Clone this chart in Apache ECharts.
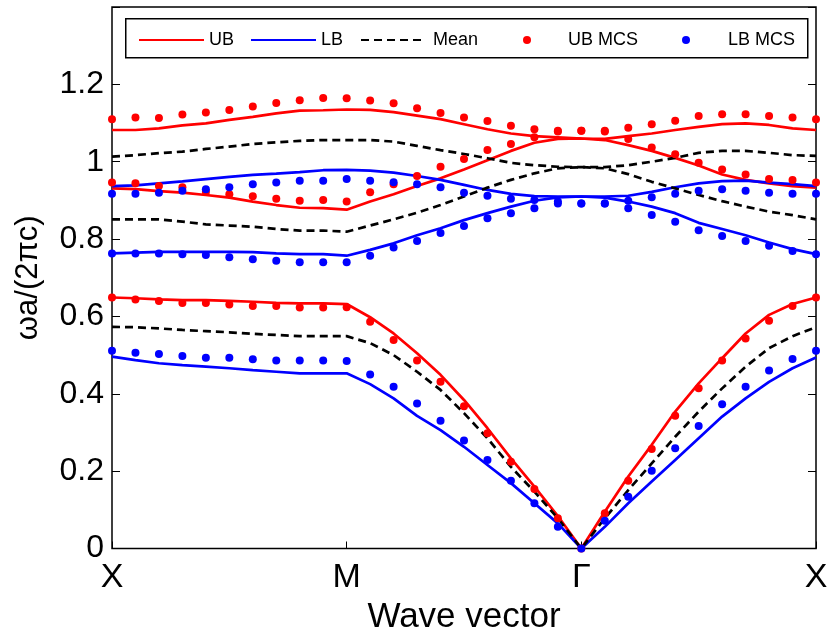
<!DOCTYPE html>
<html>
<head>
<meta charset="utf-8">
<script src="https://cdn.jsdelivr.net/npm/echarts@6/dist/echarts.min.js"></script>
<style>
html,body{margin:0;padding:0;background:#fff;}
#chart{width:827px;height:633px;}
</style>
</head>
<body>
<div id="chart"></div>
<script>
// high-symmetry points along the path, 31 k-points (index 0..30)
var kLabels = ['X', 'M', 'Γ', 'X'];

// band 1
var ub1 = [0.649,0.647,0.644,0.642,0.642,0.640,0.638,0.635,0.634,0.634,0.632,
  0.598,0.556,0.505,0.449,0.384,0.311,0.233,0.160,0.084,0.0,
  0.095,0.186,0.268,0.354,0.427,0.492,0.556,0.604,0.632,0.649];
var lb1 = [0.496,0.487,0.479,0.474,0.470,0.466,0.461,0.457,0.453,0.453,0.453,
  0.425,0.388,0.343,0.306,0.263,0.216,0.169,0.117,0.065,0.0,
  0.056,0.117,0.173,0.229,0.285,0.341,0.388,0.431,0.466,0.494];
var mean1 = [0.573,0.572,0.569,0.565,0.562,0.559,0.555,0.552,0.549,0.549,0.549,
  0.531,0.500,0.457,0.410,0.350,0.285,0.211,0.147,0.078,0.0,
  0.078,0.151,0.220,0.289,0.354,0.414,0.470,0.518,0.549,0.572];
var ubMcs1 = [0.649,0.644,0.640,0.635,0.635,0.631,0.627,0.627,0.623,0.623,0.624,
  0.586,0.539,0.486,0.431,0.368,0.298,0.224,0.154,0.078,0.0,
  0.091,0.175,0.257,0.343,0.414,0.486,0.543,0.589,0.627,0.649];
var lbMcs1 = [0.511,0.506,0.503,0.498,0.493,0.493,0.489,0.486,0.486,0.486,0.485,
  0.450,0.418,0.375,0.330,0.279,0.229,0.175,0.117,0.056,0.0,
  0.072,0.134,0.201,0.259,0.317,0.373,0.418,0.460,0.490,0.511];

// band 2
var ub2 = [0.931,0.929,0.924,0.920,0.914,0.907,0.897,0.888,0.881,0.880,0.876,
  0.897,0.916,0.937,0.957,0.980,1.004,1.028,1.049,1.059,1.060,
  1.056,1.043,1.028,1.010,0.990,0.967,0.953,0.944,0.937,0.933];
var lb2 = [0.763,0.765,0.767,0.767,0.767,0.767,0.766,0.763,0.761,0.761,0.757,
  0.772,0.789,0.810,0.828,0.849,0.867,0.884,0.899,0.908,0.910,
  0.907,0.897,0.884,0.867,0.842,0.826,0.810,0.791,0.774,0.761];
var mean2 = [0.851,0.851,0.851,0.845,0.838,0.835,0.832,0.826,0.822,0.822,0.819,
  0.835,0.851,0.868,0.888,0.910,0.933,0.953,0.970,0.983,0.986,
  0.983,0.968,0.948,0.931,0.914,0.898,0.884,0.871,0.862,0.851];
var ubMcs2 = [0.946,0.944,0.937,0.934,0.922,0.916,0.911,0.904,0.899,0.901,0.897,
  0.921,0.942,0.963,0.987,1.007,1.030,1.046,1.063,1.078,1.080,
  1.078,1.059,1.037,1.019,0.997,0.980,0.967,0.955,0.953,0.946];
var lbMcs2 = [0.763,0.763,0.763,0.761,0.759,0.753,0.748,0.744,0.740,0.740,0.740,
  0.757,0.778,0.795,0.816,0.834,0.854,0.867,0.880,0.892,0.892,
  0.892,0.880,0.862,0.845,0.823,0.808,0.795,0.783,0.769,0.761];

// band 3
var ub3 = [1.082,1.082,1.086,1.094,1.099,1.108,1.116,1.125,1.132,1.133,1.135,
  1.134,1.128,1.119,1.110,1.097,1.084,1.073,1.066,1.063,1.060,
  1.059,1.066,1.073,1.082,1.090,1.097,1.099,1.095,1.086,1.082];
var lb3 = [0.937,0.939,0.944,0.949,0.955,0.961,0.966,0.969,0.973,0.978,0.979,
  0.977,0.972,0.963,0.953,0.940,0.927,0.917,0.911,0.910,0.910,
  0.910,0.912,0.922,0.934,0.944,0.950,0.951,0.946,0.942,0.937];
var mean3 = [1.013,1.017,1.022,1.026,1.033,1.039,1.046,1.050,1.054,1.056,1.056,
  1.056,1.052,1.041,1.030,1.020,1.009,0.997,0.991,0.987,0.986,
  0.986,0.991,1.000,1.010,1.023,1.028,1.028,1.023,1.017,1.015];
var ubMcs3 = [1.110,1.114,1.113,1.122,1.127,1.134,1.143,1.152,1.159,1.165,1.164,
  1.158,1.151,1.138,1.126,1.114,1.105,1.093,1.084,1.080,1.080,
  1.080,1.088,1.097,1.106,1.118,1.123,1.123,1.118,1.114,1.110];
var lbMcs3 = [0.917,0.917,0.920,0.925,0.929,0.934,0.942,0.946,0.951,0.951,0.955,
  0.951,0.947,0.942,0.934,0.920,0.912,0.904,0.901,0.897,0.892,
  0.892,0.899,0.908,0.917,0.925,0.929,0.925,0.920,0.917,0.917];

var FONT = '"Liberation Sans", Arial, sans-serif';

function pts(arr){
  return arr.map(function(v, i){ return [i, v]; });
}
function lineSeries(name, arr, color, dashed){
  return {
    name: name, type: 'line', data: pts(arr),
    symbol: 'none', showSymbol: false, smooth: false,
    lineStyle: {color: color, width: 2.7, type: dashed ? [8, 5] : 'solid'},
    itemStyle: {color: color},
    z: 2, animation: false
  };
}
function dotSeries(name, arr, color){
  return {
    name: name, type: 'scatter', data: pts(arr),
    symbol: 'circle', symbolSize: 8,
    itemStyle: {color: color, opacity: 1},
    z: 3, animation: false
  };
}
// line entries: hide the marker that the legend puts on the line icon
function lineLegend(name, left, w, pad){
  return {
    data: [name], left: left, top: 31, itemWidth: w, itemHeight: 14,
    itemGap: 0, padding: 0, selectedMode: false, z: 10,
    itemStyle: {opacity: 0},
    textStyle: {fontFamily: FONT, fontSize: 18, color: '#000', padding: [0, 0, 0, pad || 0]}
  };
}
function dotLegend(name, left, pad){
  return {
    data: [name], left: left, top: 31, itemWidth: 8, itemHeight: 8,
    itemGap: 0, padding: 0, selectedMode: false, z: 10,
    textStyle: {fontFamily: FONT, fontSize: 18, color: '#000', padding: [0, 0, 0, pad]}
  };
}

var series = [
  lineSeries('UB', ub1, '#ff0000'), lineSeries('UB', ub2, '#ff0000'), lineSeries('UB', ub3, '#ff0000'),
  lineSeries('LB', lb1, '#0000ff'), lineSeries('LB', lb2, '#0000ff'), lineSeries('LB', lb3, '#0000ff'),
  lineSeries('Mean', mean1, '#000', true), lineSeries('Mean', mean2, '#000', true), lineSeries('Mean', mean3, '#000', true),
  dotSeries('UB MCS', ubMcs1, '#ff0000'), dotSeries('UB MCS', ubMcs2, '#ff0000'), dotSeries('UB MCS', ubMcs3, '#ff0000'),
  dotSeries('LB MCS', lbMcs1, '#0000ff'), dotSeries('LB MCS', lbMcs2, '#0000ff'), dotSeries('LB MCS', lbMcs3, '#0000ff')
];

var chart = echarts.init(document.getElementById('chart'), null, {renderer: 'canvas'});
var option = {
  backgroundColor: '#fff',
  animation: false,
  grid: {
    left: 112, right: 11, top: 7, bottom: 84.5, outerBoundsMode: 'none', containLabel: false,
    show: true, borderColor: '#000', borderWidth: 1.5, backgroundColor: 'transparent'
  },
  legend: [
    lineLegend('UB', 138, 65),
    lineLegend('LB', 250, 65),
    lineLegend('Mean', 360, 61, 6),
    dotLegend('UB MCS', 523, 32),
    dotLegend('LB MCS', 682, 33)
  ],
  graphic: [{
    type: 'rect', left: 125, top: 18, z: 1, zlevel: 0,
    shape: {width: 682, height: 39},
    style: {fill: 'transparent', stroke: '#000', lineWidth: 1.5}
  }],
  xAxis: [{
    type: 'value', min: 0, max: 30, interval: 10,
    name: 'Wave vector', nameLocation: 'middle', nameGap: 46,
    nameTextStyle: {fontFamily: FONT, fontSize: 35, color: '#000'},
    axisLine: {show: false},
    axisTick: {show: true, inside: true, length: 7, lineStyle: {color: '#000', width: 1}},
    splitLine: {show: false},
    axisLabel: {
      fontFamily: FONT, fontSize: 34, color: '#000', margin: 12,
      formatter: function(v){ return kLabels[Math.round(v / 10)]; }
    }
  }],
  yAxis: [{
    type: 'value', min: 0, max: 1.4, interval: 0.2,
    name: 'ωa/(2πc)', nameLocation: 'middle', nameGap: 68, nameRotate: 90,
    nameTextStyle: {fontFamily: FONT, fontSize: 31, color: '#000'},
    axisLine: {show: false},
    axisTick: {show: true, inside: true, length: 8, lineStyle: {color: '#000', width: 1}},
    splitLine: {show: false},
    axisLabel: {
      fontFamily: FONT, fontSize: 32, color: '#000', margin: 8,
      formatter: function(v){ return v > 1.3 ? '' : String(Math.round(v * 10) / 10); }
    }
  }, {
    type: 'value', min: 0, max: 1.4, interval: 0.2, position: 'right',
    axisLine: {show: false},
    axisTick: {show: true, inside: true, length: 8, lineStyle: {color: '#000', width: 1}},
    axisLabel: {show: false},
    splitLine: {show: false}
  }],
  series: series
};
chart.setOption(option);
</script>
</body>
</html>
